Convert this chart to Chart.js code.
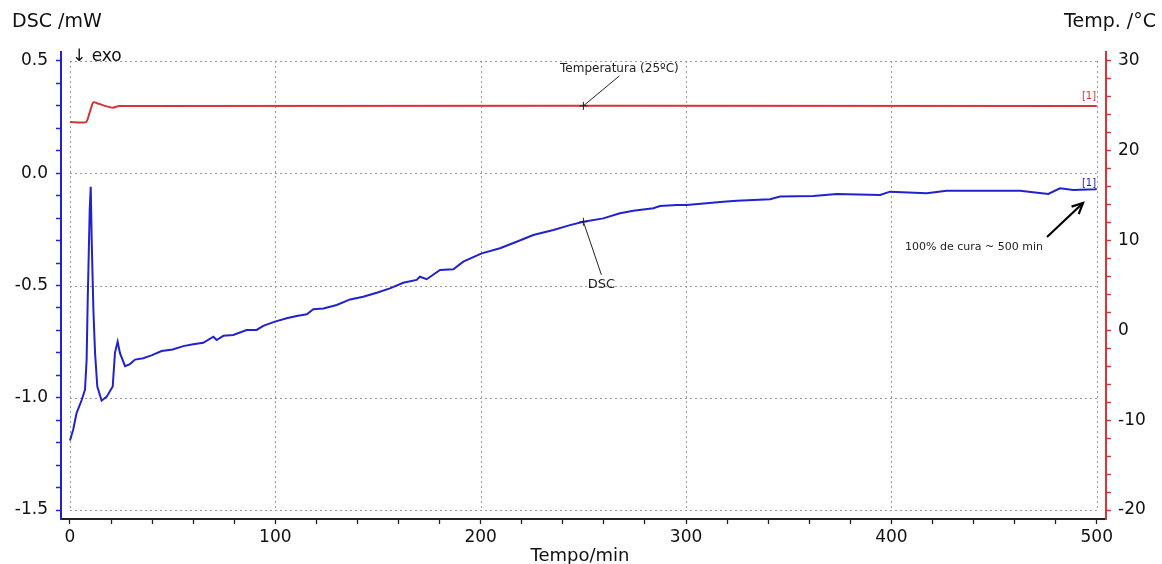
<!DOCTYPE html>
<html>
<head>
<meta charset="utf-8">
<script src="https://cdn.jsdelivr.net/npm/chart.js@4.4.1/dist/chart.umd.min.js"></script>
<style>
html,body{margin:0;padding:0;background:#fff;}
canvas{display:block;}
</style>
</head>
<body>
<canvas id="c" width="1162" height="564"></canvas>
<script>
// ---- data ----
const dscTime = [0, 1.6, 3.2, 5.7, 7.3, 8.1, 8.6, 9.1, 9.6, 10.1, 10.6, 11.4, 12.2, 13.3, 15.4, 17.9, 20.8, 21.9, 23.2, 24.3, 26.8, 29.2, 31.7, 35.7, 40, 44.6, 50, 55.2, 60, 64.9, 69.8, 71.4, 74.7, 79.5, 86, 90.9, 94.1, 99.8, 105.5, 110.4, 115.3, 118.5, 123.4, 129.9, 136.4, 142.8, 149.4, 155.8, 162.3, 168.8, 170.4, 173.7, 180.2, 186.7, 191.5, 200.5, 209.4, 217.5, 225.6, 235.4, 243.5, 250, 259.7, 267.8, 274.3, 284.1, 287.3, 295.5, 300.3, 310, 318.1, 324.7, 340.9, 345.8, 362, 373.4, 394.5, 399.3, 417.2, 426.9, 446.4, 462.6, 476.4, 482.1, 488.6, 499.2, 500];
const dscValues = [-1.19, -1.14, -1.068, -1.01, -0.965, -0.83, -0.578, -0.372, -0.164, -0.06, -0.31, -0.61, -0.80, -0.95, -1.013, -0.995, -0.95, -0.80, -0.75, -0.80, -0.859, -0.85, -0.83, -0.824, -0.81, -0.792, -0.785, -0.770, -0.762, -0.755, -0.728, -0.743, -0.724, -0.720, -0.698, -0.698, -0.680, -0.661, -0.646, -0.636, -0.628, -0.606, -0.602, -0.587, -0.562, -0.550, -0.532, -0.513, -0.488, -0.475, -0.461, -0.472, -0.431, -0.428, -0.394, -0.357, -0.334, -0.305, -0.275, -0.253, -0.231, -0.216, -0.201, -0.178, -0.167, -0.156, -0.146, -0.141, -0.141, -0.134, -0.127, -0.122, -0.116, -0.104, -0.101, -0.092, -0.097, -0.082, -0.089, -0.078, -0.078, -0.078, -0.092, -0.067, -0.075, -0.071, -0.070];
const tempTime = [0, 7.8, 9.5, 11.3, 13.3, 17, 21, 24, 500];
const tempValues = [23.2, 23.2, 24.2, 25.4, 25.3, 25.0, 24.8, 25.0, 25.0];
const timeTicks = [0, 100, 200, 300, 400, 500];
const dscTicks = [0.5, 0.0, -0.5, -1.0, -1.5];
const tempTicks = [30, 20, 10, 0, -10, -20];

const BLUE = '#2222cc';
const RED = '#d43535';
const FONT = 'DejaVu Sans';

function range(a, b, s) { const r = []; for (let v = a; v <= b + 1e-9; v += s) r.push(Math.round(v * 1000) / 1000); return r; }

const overlay = {
  id: 'overlay',
  beforeDatasetsDraw(chart) {
    const ctx = chart.ctx, x = chart.scales.x, y = chart.scales.y;
    ctx.save();
    ctx.strokeStyle = '#9a9a9a';
    ctx.lineWidth = 1;
    ctx.setLineDash([2, 3]);
    const yt = y.getPixelForValue(dscTicks[0]), yb = y.getPixelForValue(dscTicks[dscTicks.length - 1]);
    const xl = x.getPixelForValue(timeTicks[0]), xr = x.getPixelForValue(timeTicks[timeTicks.length - 1]);
    timeTicks.forEach(t => { const px = Math.round(x.getPixelForValue(t)) + 0.5; ctx.beginPath(); ctx.moveTo(px, yt); ctx.lineTo(px, yb); ctx.stroke(); });
    dscTicks.forEach(v => { const py = Math.round(y.getPixelForValue(v)) + 0.5; ctx.beginPath(); ctx.moveTo(xl, py); ctx.lineTo(xr, py); ctx.stroke(); });
    ctx.restore();
  },
  afterDraw(chart) {
    const ctx = chart.ctx, x = chart.scales.x, y = chart.scales.y, y2 = chart.scales.y2;
    ctx.save();
    ctx.fillStyle = '#111';
    ctx.textBaseline = 'alphabetic';
    ctx.font = '19px ' + FONT;
    ctx.textAlign = 'left';
    ctx.fillText('DSC /mW', 12, 27);
    ctx.textAlign = 'right';
    ctx.fillText('Temp. /°C', 1156, 27);
    ctx.textAlign = 'center';
    ctx.font = '18px ' + FONT;
    ctx.fillText('Tempo/min', 580, 561);
    // exo
    ctx.textAlign = 'left';
    ctx.font = '17px ' + FONT;
    ctx.fillText('↓ exo', 72, 61);

    // annotations
    const ax = x.getPixelForValue(250);
    const tY = y2.getPixelForValue(25);
    const dY = y.getPixelForValue(-0.216);
    ctx.strokeStyle = '#222';
    ctx.lineWidth = 1;
    ctx.setLineDash([]);
    [[ax, tY], [ax, dY]].forEach(p => {
      ctx.beginPath();
      ctx.moveTo(p[0] - 4, p[1]); ctx.lineTo(p[0] + 4, p[1]);
      ctx.moveTo(p[0], p[1] - 4); ctx.lineTo(p[0], p[1] + 4);
      ctx.stroke();
    });
    ctx.beginPath(); ctx.moveTo(ax, tY); ctx.lineTo(ax + 36, tY - 30); ctx.stroke();
    ctx.beginPath(); ctx.moveTo(ax, dY); ctx.lineTo(ax + 18, dY + 53); ctx.stroke();
    ctx.font = '12px ' + FONT;
    ctx.textAlign = 'center';
    ctx.fillStyle = '#222';
    ctx.fillText('Temperatura (25ºC)', ax + 36, tY - 34);
    ctx.font = '13px ' + FONT;
    ctx.fillText('DSC', ax + 18, dY + 66);
    // cure arrow
    ctx.font = '11px ' + FONT;
    ctx.fillText('100% de cura ~ 500 min', 974, 250);
    ctx.strokeStyle = '#000';
    ctx.lineWidth = 2.2;
    const x1 = 1047, y1 = 237, x2 = 1083, y2p = 203;
    ctx.beginPath(); ctx.moveTo(x1, y1); ctx.lineTo(x2, y2p); ctx.stroke();
    const ang = Math.atan2(y2p - y1, x2 - x1);
    ctx.beginPath();
    ctx.moveTo(x2 - 12 * Math.cos(ang - 0.45), y2p - 12 * Math.sin(ang - 0.45));
    ctx.lineTo(x2, y2p);
    ctx.lineTo(x2 - 12 * Math.cos(ang + 0.45), y2p - 12 * Math.sin(ang + 0.45));
    ctx.stroke();
    // [1] markers
    ctx.font = '10px ' + FONT;
    ctx.textAlign = 'center';
    ctx.fillStyle = RED;
    ctx.fillText('[1]', 1089, tY - 7);
    ctx.fillStyle = BLUE;
    ctx.fillText('[1]', 1089, y.getPixelForValue(-0.071) - 3);
    ctx.restore();
  }
};

new Chart(document.getElementById('c'), {
  type: 'line',
  data: {
    datasets: [
      { label: 'DSC', data: dscTime.map((t, i) => ({ x: t, y: dscValues[i] })), borderColor: BLUE, borderWidth: 2, pointRadius: 0, tension: 0, yAxisID: 'y' },
      { label: 'Temp', data: tempTime.map((t, i) => ({ x: t, y: tempValues[i] })), borderColor: RED, borderWidth: 2, pointRadius: 0, tension: 0.2, yAxisID: 'y2' }
    ]
  },
  options: {
    responsive: false,
    devicePixelRatio: 1,
    animation: false,
    layout: { padding: { top: 52, left: 0, right: 0, bottom: 0 } },
    plugins: { legend: { display: false }, tooltip: { enabled: false } },
    scales: {
      x: {
        type: 'linear', position: 'bottom', min: -4.38, max: 504.5,
        afterBuildTicks: s => { s.ticks = range(0, 500, 20).map(v => ({ value: v })); },
        afterFit: s => { s.height = 45; },
        ticks: { autoSkip: false, maxRotation: 0, padding: 3, color: '#111', font: { family: FONT, size: 17 },
          callback: v => (timeTicks.includes(v) ? String(v) : '') },
        grid: { drawOnChartArea: false, drawTicks: true, tickLength: 5, color: '#222', tickWidth: 1.3 },
        border: { color: '#222', width: 2 }
      },
      y: {
        type: 'linear', position: 'left', min: -1.54, max: 0.54,
        afterBuildTicks: s => { s.ticks = range(-1.5, 0.5, 0.1).map(v => ({ value: v })); },
        afterFit: s => { s.width = 61; },
        ticks: { autoSkip: false, padding: 8, color: '#111', font: { family: FONT, size: 17 },
          callback: v => { const m = dscTicks.find(t => Math.abs(t - v) < 1e-6); return m === undefined ? '' : m.toFixed(1); } },
        grid: { drawOnChartArea: false, drawTicks: true, tickLength: 5, color: BLUE, tickWidth: 1.5 },
        border: { color: BLUE, width: 2 }
      },
      y2: {
        type: 'linear', position: 'right', min: -21, max: 31,
        afterBuildTicks: s => { s.ticks = range(-20, 30, 2).map(v => ({ value: v })); },
        afterFit: s => { s.width = 56; },
        ticks: { autoSkip: false, padding: 7, color: '#111', font: { family: FONT, size: 17 },
          callback: v => (tempTicks.includes(v) ? String(v) : '') },
        grid: { drawOnChartArea: false, drawTicks: true, tickLength: 5, color: RED, tickWidth: 1.5 },
        border: { color: RED, width: 2 }
      }
    }
  },
  plugins: [overlay]
});
</script>
</body>
</html>
